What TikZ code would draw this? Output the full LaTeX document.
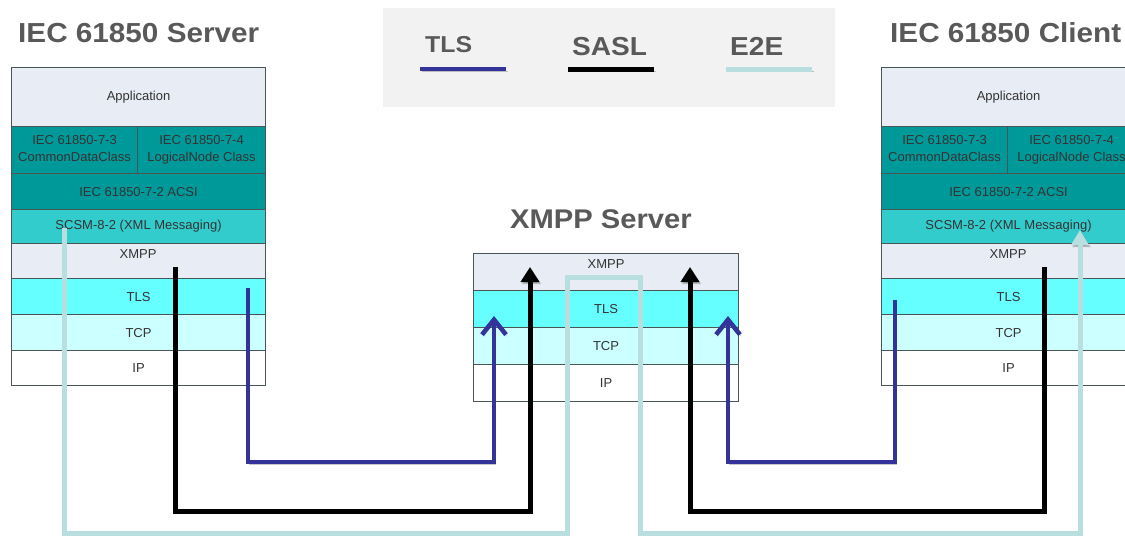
\documentclass[tikz,border=0pt]{standalone}
\usepackage{fontspec}
\setmainfont{Liberation Sans}
\newfontfamily\headfont[FakeStretch=1.08]{Liberation Sans}
\usetikzlibrary{arrows.meta}

\definecolor{appbg}{HTML}{E8ECF5}
\definecolor{tealdark}{HTML}{009999}
\definecolor{teallight}{HTML}{33CCCC}
\definecolor{tlsbg}{HTML}{66FFFF}
\definecolor{tcpbg}{HTML}{CCFFFF}
\definecolor{tlsline}{HTML}{333399}
\definecolor{e2eline}{HTML}{B8DEE0}
\definecolor{headgray}{HTML}{595959}
\definecolor{legendbg}{HTML}{F2F2F2}
\definecolor{rowtext}{HTML}{333333}
\definecolor{rulegray}{HTML}{4A5656}

\tikzset{
  layer/.style={draw=rulegray, line width=1.1pt, inner sep=0pt, anchor=north west,
    font=\fontsize{13}{16.5}\selectfont, text=rowtext, align=center},
  lbl/.style={font=\fontsize{13}{15}\selectfont, text=rowtext, inner sep=0pt},
  title/.style={font=\headfont\bfseries\fontsize{27.5}{30}\selectfont, text=headgray,
    inner sep=0pt, anchor=base west},
  legendtext/.style={font=\headfont\bfseries\fontsize{26}{28}\selectfont, text=headgray,
    inner sep=0pt, anchor=base west},
  shadowed/.style={preaction={draw=black, draw opacity=0.22,
    transform canvas={shift={(1.5pt,-2pt)}}}},
  tlsconn/.style={draw=tlsline, line width=4.5pt, shadowed},
  saslconn/.style={draw=black, line width=5pt, shadowed},
  e2econn/.style={draw=e2eline, line width=5pt, shadowed},
  tlstip/.style={-{Straight Barb[length=15pt, width=24pt]}},
  sasltip/.style={-{Triangle[length=15pt, width=18pt]}},
  e2etip/.style={-{Triangle[length=15pt, width=17pt]}},
}

% protocol stack of an IEC 61850 end point: #1 = left edge, #2 = name prefix
\newcommand\iecstack[2]{%
  \node[layer, fill=appbg, minimum width=254pt, minimum height=59pt] (#2app) at (#1,67) {Application};
  \node[layer, fill=tealdark, minimum width=126pt, minimum height=47pt] (#2cdc) at (#1,126) {IEC 61850-7-3\\CommonDataClass\vphantom{g}};
  \node[layer, fill=tealdark, minimum width=128pt, minimum height=47pt] (#2lnc) at (#1+126,126) {IEC 61850-7-4\\LogicalNode Class};
  \node[layer, fill=tealdark, minimum width=254pt, minimum height=36pt] (#2acsi) at (#1,173) {IEC 61850-7-2 ACSI};
  \node[layer, fill=teallight, minimum width=254pt, minimum height=34pt] (#2scsm) at (#1,209) {SCSM-8-2 (XML Messaging)};
  \node[layer, fill=appbg, minimum width=254pt, minimum height=35pt] (#2xmpp) at (#1,243) {};
  \node[lbl] (#2xmpptext) at (#1+127,254) {XMPP};
  \node[layer, fill=tlsbg, minimum width=254pt, minimum height=36pt] (#2tls) at (#1,278) {TLS};
  \node[layer, fill=tcpbg, minimum width=254pt, minimum height=36pt] (#2tcp) at (#1,314) {TCP};
  \node[layer, fill=white, minimum width=254pt, minimum height=35pt] (#2ip) at (#1,350) {IP};
}

\begin{document}
\begin{tikzpicture}[x=1pt, y=-1pt]
  \useasboundingbox (0,0) rectangle (1125,538);
  \clip (0,0) rectangle (1125,538);
  \fill[white] (0,0) rectangle (1125,538);

  % titles
  \node[title] (srvtitle) at (18,42) {IEC 61850 Server};
  \node[title] (clttitle) at (890,42) {IEC 61850 Client};
  \node[title, font=\headfont\bfseries\fontsize{27}{29}\selectfont] (xmpptitle) at (510,228) {XMPP Server};

  % legend
  \node[fill=legendbg, minimum width=452pt, minimum height=99pt, anchor=north west, inner sep=0pt] (legend) at (383,8) {};
  \node[legendtext, font=\headfont\bfseries\fontsize{23}{25}\selectfont] (lgtls) at (425,52) {TLS};
  \node[legendtext] (lgsasl) at (572,55) {SASL};
  \node[legendtext] (lge2e) at (730,55) {E2E};
  \coordinate (lgtlsA) at (420,69);  \coordinate (lgtlsB) at (506,69);
  \coordinate (lgsaslA) at (568,69); \coordinate (lgsaslB) at (654,69);
  \coordinate (lge2eA) at (726,69);  \coordinate (lge2eB) at (812,69);
  \draw[tlsconn] (lgtlsA) -- (lgtlsB);
  \draw[saslconn] (lgsaslA) -- (lgsaslB);
  \draw[e2econn] (lge2eA) -- (lge2eB);

  % end point stacks
  \iecstack{11}{s}
  \iecstack{881}{c}

  % XMPP server stack
  \node[layer, fill=appbg, minimum width=265pt, minimum height=37pt] (mxmpp) at (473,253) {};
  \node[lbl] (mxmpptext) at (606,264) {XMPP};
  \node[layer, fill=tlsbg, minimum width=265pt, minimum height=37pt] (mtls) at (473,290) {TLS};
  \node[layer, fill=tcpbg, minimum width=265pt, minimum height=37pt] (mtcp) at (473,327) {TCP};
  \node[layer, fill=white, minimum width=265pt, minimum height=37pt] (mip) at (473,364) {IP};

  % end-to-end path
  \coordinate (e2eS) at (64,228);
  \coordinate (e2e1) at (64,533);
  \coordinate (e2e2) at (567,533);
  \coordinate (e2e3) at (567,277);
  \coordinate (e2e4) at (640,277);
  \coordinate (e2e5) at (640,533);
  \coordinate (e2e6) at (1080,533);
  \coordinate (e2eE) at (1080,230);
  \draw[e2econn, e2etip] (e2eS) -- (e2e1) -- (e2e2) -- (e2e3) -- (e2e4) -- (e2e5) -- (e2e6) -- (e2eE);

  % SASL paths
  \coordinate (saslLS) at (175,267);
  \coordinate (saslL1) at (175,511);
  \coordinate (saslL2) at (530,511);
  \coordinate (saslLE) at (530,267);
  \draw[saslconn, sasltip] (saslLS) -- (saslL1) -- (saslL2) -- (saslLE);
  \coordinate (saslRS) at (1044,267);
  \coordinate (saslR1) at (1044,511);
  \coordinate (saslR2) at (690,511);
  \coordinate (saslRE) at (690,267);
  \draw[saslconn, sasltip] (saslRS) -- (saslR1) -- (saslR2) -- (saslRE);

  % TLS paths
  \coordinate (tlsLS) at (248,288);
  \coordinate (tlsL1) at (248,462);
  \coordinate (tlsL2) at (494,462);
  \coordinate (tlsLE) at (494,316);
  \draw[tlsconn, tlstip] (tlsLS) -- (tlsL1) -- (tlsL2) -- (tlsLE);
  \coordinate (tlsRS) at (895,300);
  \coordinate (tlsR1) at (895,462);
  \coordinate (tlsR2) at (728,462);
  \coordinate (tlsRE) at (728,316);
  \draw[tlsconn, tlstip] (tlsRS) -- (tlsR1) -- (tlsR2) -- (tlsRE);
\end{tikzpicture}
\end{document}
